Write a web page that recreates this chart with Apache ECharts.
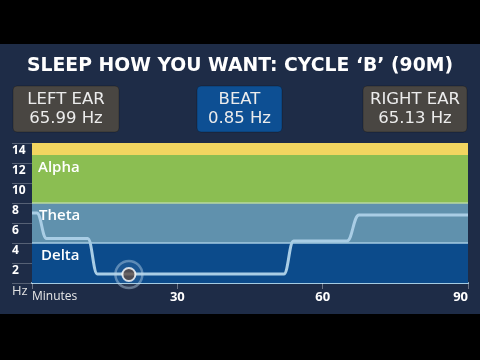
<!DOCTYPE html>
<html><head><meta charset="utf-8">
<script src="https://cdn.jsdelivr.net/npm/echarts@6/dist/echarts.min.js"></script>
<style>html,body{margin:0;padding:0;background:#000;}#c{width:480px;height:360px;}</style>
</head><body><div id="c"></div>
<script>
const titleText = 'SLEEP HOW YOU WANT: CYCLE \u2018B\u2019 (90M)';
const boxLabels = ['LEFT EAR', 'BEAT', 'RIGHT EAR'];
const boxValues = ['65.99 Hz', '0.85 Hz', '65.13 Hz'];
const bandNames = ['Delta', 'Theta', 'Alpha', ''];
const bandLow = [0, 4, 8, 12.8];
const bandHigh = [4, 8, 12.8, 14];
const yTickLabels = ['Hz', '2', '4', '6', '8', '10', '12', '14'];
const xTickLabels = ['Minutes', '30', '60', '90'];
const lineMinutes = [0, 1, 3, 11.5, 13.5, 52, 54, 65, 67.5, 90];
const lineHz = [7, 7, 4.45, 4.45, 0.9, 0.9, 4.2, 4.2, 6.8, 6.8];
const markerMinute = [20];
const markerHz = [0.85];

const bandColors = ['#0c4b8b', '#6091ad', '#8bbe52', '#f2d560'];
const bandLabelOffsets = [[4, 0], [2, 0], [1, 0], [0, 0]];
const font = '"Open Sans", "DejaVu Sans", sans-serif';
const wideFont = '"DejaVu Sans", sans-serif';

const chart = echarts.init(document.getElementById('c'), null, {renderer: 'canvas'});

const boxX = [13, 197, 363];
const boxW = [106, 85, 104];
const boxFill = ['#494642', '#0d4f93', '#494642'];
const graphics = [
  {type: 'rect', z: -10, shape: {x: 0, y: 44, width: 480, height: 270}, style: {fill: '#1e2c47'}},
  {type: 'text', z: 10, style: {text: titleText, x: 240, y: 66, align: 'center', verticalAlign: 'middle', fill: '#ffffff', font: 'bold 18.8px ' + wideFont}}
];
boxLabels.forEach((lab, i) => {
  graphics.push({type: 'rect', z: 5, shape: {x: boxX[i], y: 86, width: boxW[i], height: 46, r: 4}, style: {fill: boxFill[i], stroke: 'rgba(0,0,0,0.25)', lineWidth: 1}});
  graphics.push({type: 'text', z: 10, style: {text: lab, x: boxX[i] + boxW[i] / 2, y: 100, align: 'center', verticalAlign: 'middle', fill: '#ececec', font: '400 16.5px ' + wideFont}});
  graphics.push({type: 'text', z: 10, style: {text: boxValues[i], x: boxX[i] + boxW[i] / 2, y: 119, align: 'center', verticalAlign: 'middle', fill: '#ececec', font: '400 16.5px ' + wideFont}});
});

const markAreaData = bandLow.map((lo, i) => [
  {yAxis: lo, itemStyle: {color: bandColors[i]}, label: {show: bandNames[i] !== '', formatter: bandNames[i], position: 'insideTopLeft', distance: 5, offset: bandLabelOffsets[i], color: '#ffffff', fontSize: 15, fontWeight: 600, fontFamily: font}},
  {yAxis: bandHigh[i]}
]);

chart.setOption({
  backgroundColor: '#000000',
  animation: false,
  graphic: graphics,
  grid: {left: 32, right: 12, top: 143, bottom: 77, containLabel: false},
  xAxis: {
    type: 'value', min: 0, max: 90, interval: 30,
    axisLine: {show: true, lineStyle: {color: '#a4cbe2', width: 2}},
    axisTick: {show: true, length: 6, lineStyle: {color: 'rgba(255,255,255,0.35)'}},
    splitLine: {show: false},
    axisLabel: {
      margin: 8, color: '#ffffff', fontSize: 13, fontWeight: 700, fontFamily: font,
      alignMinLabel: 'left', alignMaxLabel: 'right',
      formatter: v => {
        const i = Math.round(v / 30);
        return i === 0 ? '{m|' + xTickLabels[0] + '}' : xTickLabels[i];
      },
      rich: {m: {color: '#e8e8e8', fontSize: 12, fontWeight: 400, fontFamily: font}}
    }
  },
  yAxis: {
    type: 'value', min: 0, max: 14, interval: 2,
    axisLine: {show: false},
    axisTick: {show: true, length: 20, lineStyle: {color: 'rgba(255,255,255,0.25)'}},
    splitLine: {show: false},
    axisLabel: {
      margin: 20, align: 'left', verticalAlign: 'top', padding: [2, 0, 0, 0],
      color: '#ffffff', fontSize: 12, fontWeight: 700, fontFamily: font,
      formatter: v => {
        const i = Math.round(v / 2);
        return i === 0 ? '{h|' + yTickLabels[0] + '}' : yTickLabels[i];
      },
      rich: {h: {color: '#e0e0e0', fontSize: 13, fontWeight: 400, fontFamily: font}}
    }
  },
  series: [
    {
      type: 'line', z: 1, silent: true, data: [], symbol: 'none',
      markArea: {silent: true, data: markAreaData},
      markLine: {
        silent: true, symbol: 'none', label: {show: false},
        lineStyle: {color: '#a4cbe2', width: 1.5, type: 'solid'},
        data: [{yAxis: 4}, {yAxis: 8, lineStyle: {color: '#b9d9a0', width: 1.5}}]
      }
    },
    {
      type: 'line', z: 3, silent: true, symbol: 'none',
      smooth: 0.45, smoothMonotone: 'x',
      lineStyle: {color: '#a9cde5', width: 3},
      data: lineMinutes.map((m, i) => [m, lineHz[i]])
    },
    {
      type: 'scatter', z: 4, silent: true, symbolSize: 27,
      itemStyle: {color: 'rgba(255,255,255,0.08)', borderColor: 'rgba(190,215,235,0.55)', borderWidth: 2.5},
      data: markerMinute.map((m, i) => [m, markerHz[i]])
    },
    {
      type: 'scatter', z: 5, silent: true, symbolSize: 13,
      itemStyle: {color: '#5b4a44', borderColor: '#ffffff', borderWidth: 2},
      data: markerMinute.map((m, i) => [m, markerHz[i]])
    }
  ]
});
</script></body></html>
